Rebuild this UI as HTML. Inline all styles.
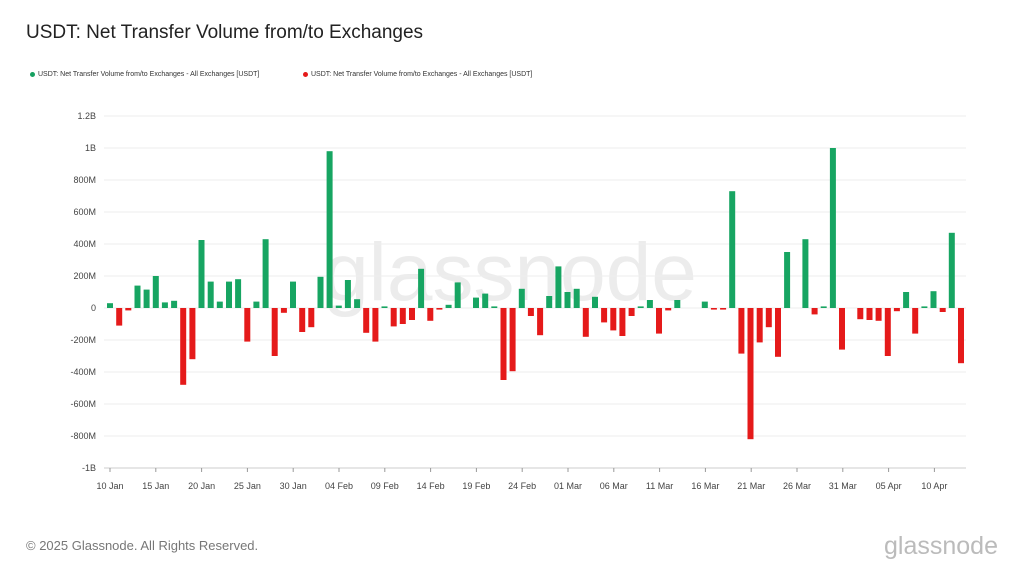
<!DOCTYPE html>
<html><head><meta charset="utf-8"><style>
body{margin:0;width:1024px;height:576px;background:#fff;font-family:"Liberation Sans",sans-serif;overflow:hidden;position:relative}
.t{position:absolute;left:26px;top:22px;font-size:19px;color:#222}
.lg{position:absolute;top:71px;font-size:7px;color:#333}
.dot{display:inline-block;width:5px;height:5px;border-radius:50%;margin-right:3px;vertical-align:middle}
.f{position:absolute;left:26px;top:538px;font-size:13px;color:#777}
.logo{position:absolute;right:26px;top:532px;font-size:25px;color:#bbb}
</style></head><body>
<div class="t">USDT: Net Transfer Volume from/to Exchanges</div>
<div class="lg" style="left:30px"><span class="dot" style="background:#16a060"></span>USDT: Net Transfer Volume from/to Exchanges - All Exchanges [USDT]</div>
<div class="lg" style="left:303px"><span class="dot" style="background:#e51a1a"></span>USDT: Net Transfer Volume from/to Exchanges - All Exchanges [USDT]</div>
<svg id="s" width="1024" height="576" style="position:absolute;left:0;top:0"></svg>
<div class="f">© 2025 Glassnode. All Rights Reserved.</div>
<div class="logo">glassnode</div>
<script>
var s=document.getElementById('s'),h='';
h+='<text x="510" y="300" text-anchor="middle" font-size="82" fill="#ececec" font-family="Liberation Sans">glassnode</text>';
var yl=['1.2B','1B','800M','600M','400M','200M','0','-200M','-400M','-600M','-800M','-1B'];
for(var i=0;i<12;i++){var y=116+i*32;h+='<line x1="104" x2="966" y1="'+y+'" y2="'+y+'" stroke="#eee"/>';
h+='<text x="96" y="'+(y+3)+'" text-anchor="end" font-size="9" fill="#444">'+yl[i]+'</text>';}
var xl=['10 Jan','15 Jan','20 Jan','25 Jan','30 Jan','04 Feb','09 Feb','14 Feb','19 Feb','24 Feb','01 Mar','06 Mar','11 Mar','16 Mar','21 Mar','26 Mar','31 Mar','05 Apr','10 Apr'];
h+='<line x1="104" x2="966" y1="468" y2="468" stroke="#ccc"/>';
for(i=0;i<xl.length;i++){var x=110+i*45.8;h+='<line x1="'+x+'" x2="'+x+'" y1="468" y2="472" stroke="#999"/><text x="'+x+'" y="489" text-anchor="middle" font-size="9" fill="#444">'+xl[i]+'</text>';}
var v=[30,-110,-15,140,115,200,35,45,-480,-320,425,165,40,165,180,-210,40,430,-300,-30,165,-150,-120,195,980,15,175,55,-155,-210,10,-115,-100,-75,245,-80,-10,20,160,-5,65,90,10,-450,-395,120,-50,-170,75,260,100,120,-180,70,-90,-140,-175,-50,10,50,-160,-15,50,5,0,40,-10,-10,730,-285,-820,-215,-120,-305,350,-5,430,-40,10,1000,-260,0,-70,-75,-80,-300,-20,100,-160,10,105,-25,470,-345];
var dx=(961-110)/(v.length-1);
for(i=0;i<v.length;i++){var x=110+i*dx-3,hh=Math.abs(v[i])*0.16;if(hh<1)continue;
h+='<rect x="'+x.toFixed(1)+'" y="'+(v[i]>0?308-hh:308).toFixed(1)+'" width="6" height="'+hh.toFixed(1)+'" fill="'+(v[i]>0?'#17a562':'#e51a1a')+'"/>';}
s.innerHTML=h;
</script>
</body></html>
